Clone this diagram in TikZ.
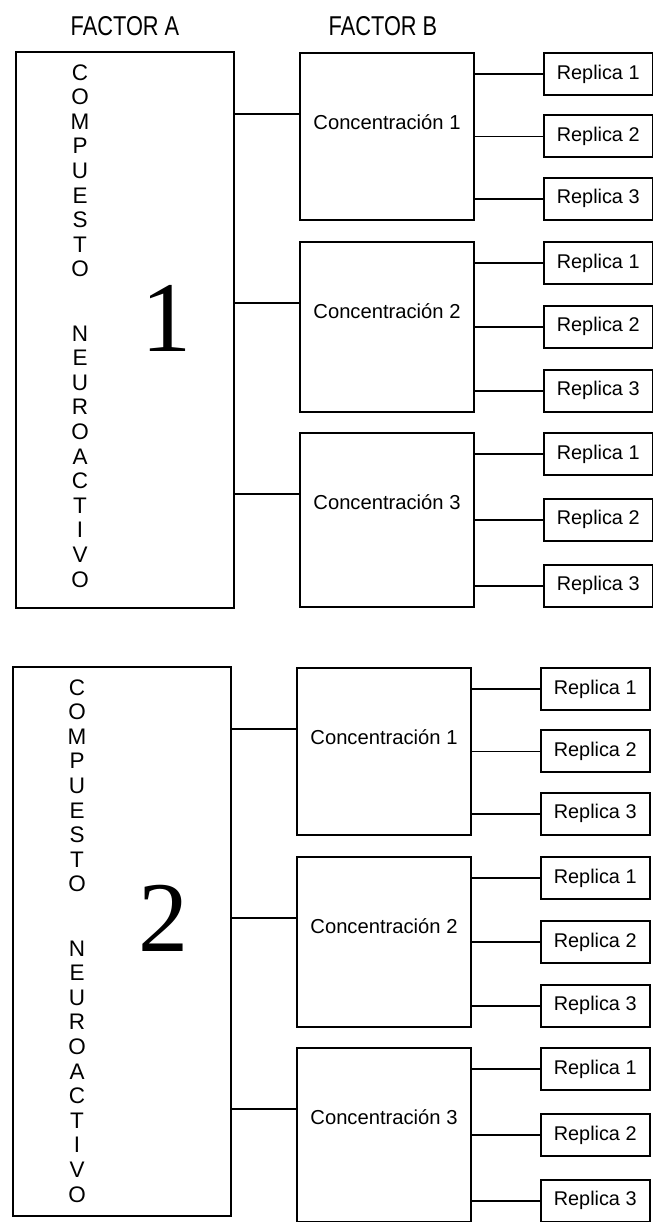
\documentclass[tikz,border=0pt]{standalone}
\usepackage{fontspec}
\newfontfamily\labfont{Liberation Sans}
\newfontfamily\headfont[FakeStretch=0.8]{Liberation Sans}
\newfontfamily\numfont{Liberation Serif}
\usetikzlibrary{positioning}

\tikzset{
  factor/.style={draw=black, line width=1.1pt, minimum width=4.36cm},
  conc/.style={draw=black, line width=1pt, minimum width=3.48cm},
  rep/.style={draw=black, line width=1pt, minimum width=2.18cm, minimum height=0.84cm,
    font=\labfont\fontsize{11.3}{13}\selectfont},
  link/.style={line width=0.8pt},
}

\begin{document}
\begin{tikzpicture}[x=0.02cm, y=-0.02cm]
  \useasboundingbox (0,0) rectangle (652,1222);

  \node[font=\headfont\fontsize{15.5}{18}\selectfont] (fa) at (125,26) {FACTOR A};
  \node[font=\headfont\fontsize{15.5}{18}\selectfont] (fb) at (383,26) {FACTOR B};

  \foreach \s/\dx/\dy/\ah/\ny in {1/0/0/11.12cm/318, 2/-3/615/10.98cm/303}{
    \begin{scope}[shift={(\dx,\dy)}]
      \node[factor, minimum height=\ah, anchor=north] (a\s) at (125,51) {};
      \node[font=\labfont\fontsize{12.8}{14}\selectfont, align=center, inner sep=0pt, anchor=north] (w\s) at (80,64)
        {C\\O\\M\\P\\U\\E\\S\\T\\O\\[22.6pt]N\\E\\U\\R\\O\\A\\C\\T\\I\\V\\O};
      \node[font=\numfont\fontsize{57}{60}\selectfont] (n\s) at (167,\ny) {\s};

      \foreach \k/\top/\h in {1/52/3.34cm, 2/241/3.40cm, 3/432/3.48cm}{
        \node[conc, minimum height=\h, anchor=north] (c\s\k) at (387,\top) {};
        \node[font=\labfont\fontsize{11.5}{13}\selectfont] (t\s\k) at (387,\top+70) {Concentración \k};
        \coordinate (k\s\k) at (300,\top+62);
        \draw[link] (a\s.east |- k\s\k) -- (k\s\k);

        \node[rep, right=1.36cm of c\s\k.north east, anchor=north west] (r\s\k1) {Replica 1};
        \node[rep, right=1.36cm of c\s\k.east] (r\s\k2) {Replica 2};
        \node[rep, right=1.36cm of c\s\k.south east, anchor=south west] (r\s\k3) {Replica 3};
        \foreach \j in {1,2,3}
          \draw[link] (r\s\k\j.west -| c\s\k.east) -- (r\s\k\j.west);
      }
    \end{scope}
  }
\end{tikzpicture}
\end{document}
